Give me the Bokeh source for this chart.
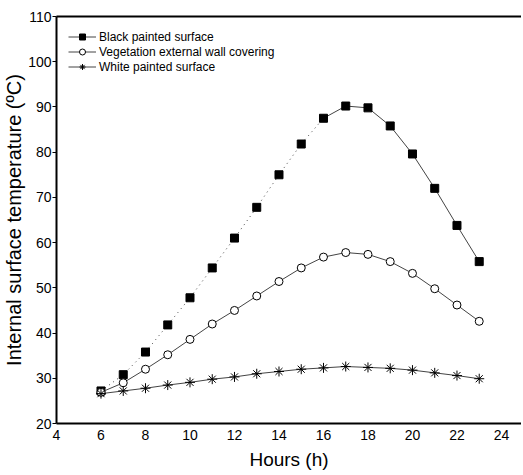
from bokeh.plotting import figure
from bokeh.models import Range1d, LinearAxis, FixedTicker, Legend, LegendItem
from bokeh.embed import file_html
from bokeh.resources import INLINE

hours = [6, 7, 8, 9, 10, 11, 12, 13, 14, 15, 16, 17, 18, 19, 20, 21, 22, 23]
black = [27.2, 30.8, 35.8, 41.8, 47.8, 54.4, 61.0, 67.8, 75.0, 81.8, 87.5, 90.2, 89.8, 85.8, 79.6, 72.0, 63.8, 55.8]
veg = [26.9, 29.0, 32.0, 35.2, 38.6, 42.0, 45.0, 48.2, 51.4, 54.4, 56.8, 57.8, 57.4, 55.8, 53.2, 49.8, 46.2, 42.6]
white = [26.6, 27.2, 27.8, 28.5, 29.1, 29.8, 30.3, 31.0, 31.5, 32.0, 32.3, 32.6, 32.4, 32.2, 31.8, 31.2, 30.6, 29.9]
x_ticks = [4, 6, 8, 10, 12, 14, 16, 18, 20, 22, 24]
y_ticks = [20, 30, 40, 50, 60, 70, 80, 90, 100, 110]
labels = ["Black painted surface", "Vegetation external wall covering", "White painted surface"]
split = 10  # index of hour 16: dotted before, solid after

FONT = "Liberation Sans"

p = figure(frame_width=465, frame_height=407, output_backend="svg", toolbar_location=None,
           x_range=Range1d(4, 24.9), y_range=Range1d(20, 110),
           min_border_left=50, min_border_top=16, min_border_right=0, min_border_bottom=10)
p.outline_line_color = None
p.background_fill_color = "white"
p.xgrid.visible = False
p.ygrid.visible = False

for ax in (p.xaxis[0], p.yaxis[0]):
    ax.axis_line_width = 2
    ax.axis_line_color = "black"
    ax.minor_tick_line_color = None
    ax.major_label_text_font = FONT
    ax.major_label_text_font_size = "14px"
    ax.major_label_text_color = "black"
    ax.axis_label_text_font = FONT
    ax.axis_label_text_font_style = "normal"
    ax.axis_label_text_color = "black"

p.xaxis.ticker = FixedTicker(ticks=x_ticks)
p.yaxis.ticker = FixedTicker(ticks=y_ticks)
p.xaxis.major_tick_out = 0
p.xaxis.major_tick_in = 0
p.xaxis.major_label_standoff = 6
p.xaxis.axis_label = "Hours (h)"
p.xaxis.axis_label_standoff = 6
p.xaxis.axis_label_text_font_size = "19px"
p.yaxis.major_tick_out = 4
p.yaxis.major_tick_in = 0
p.yaxis.major_tick_line_width = 1
p.yaxis.major_label_standoff = 1
p.yaxis.axis_label = "Internal surface temperature (ºC)"
p.yaxis.axis_label_standoff = 0
p.yaxis.axis_label_text_font_size = "20px"

top = LinearAxis(ticker=FixedTicker(ticks=[]), major_tick_out=0, major_tick_in=0,
                 minor_tick_out=0, minor_tick_in=0, major_label_standoff=0,
                 axis_line_width=2, axis_line_color="black")
p.add_layout(top, "above")

lc = "#444444"
# black painted: dotted rising part, solid after
p.line(hours[:split + 1], black[:split + 1], line_color=lc, line_width=1, line_dash="1 4")
lb = p.line(hours[split:], black[split:], line_color=lc, line_width=1)
mb = p.scatter(hours, black, marker="square", size=8, fill_color="black", line_color="black")

lv = p.line(hours, veg, line_color=lc, line_width=1)
mv = p.scatter(hours, veg, marker="circle", size=8, fill_color="white", line_color="black", line_width=1)

lw = p.line(hours, white, line_color=lc, line_width=1)
mw = p.scatter(hours, white, marker="asterisk", size=10, line_color="black", line_width=1)

legend = Legend(items=[LegendItem(label=labels[0], renderers=[lb, mb]),
                       LegendItem(label=labels[1], renderers=[lv, mv]),
                       LegendItem(label=labels[2], renderers=[lw, mw])],
                location=(12, 349), margin=0, padding=0, spacing=0,
                label_height=15, glyph_height=15, glyph_width=28, label_standoff=3,
                label_text_font=FONT, label_text_font_size="12px", label_text_color="black",
                label_text_line_height=1.0,
                border_line_color=None, background_fill_alpha=0)
p.add_layout(legend, "center")

open("out.html", "w").write(file_html(p, INLINE))
